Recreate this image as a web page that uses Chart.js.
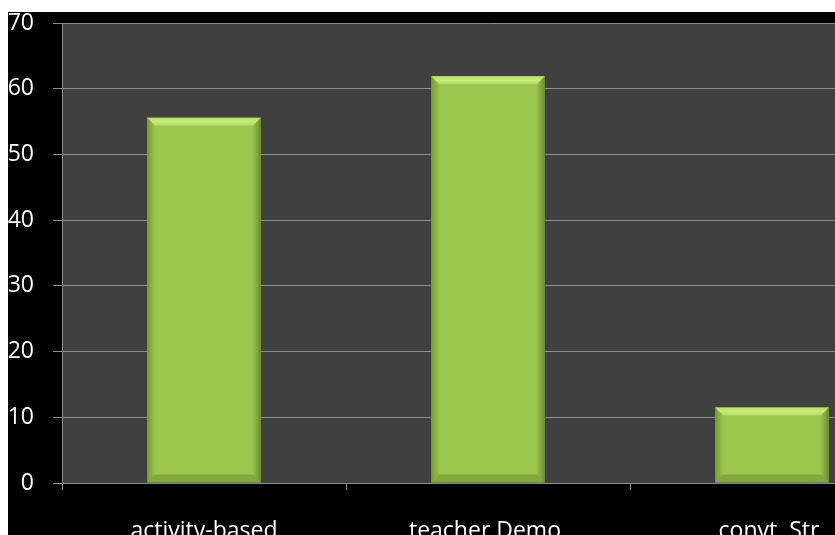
<!DOCTYPE html>
<html>
<head>
<meta charset="utf-8">
<script src="https://cdn.jsdelivr.net/npm/chart.js@4.4.1/dist/chart.umd.min.js"></script>
<style>
  html, body { margin: 0; padding: 0; background: #ffffff; width: 835px; height: 535px; overflow: hidden; }
  #wrap { position: absolute; left: 8px; top: 12px; width: 827px; height: 523px; background: #000000; overflow: hidden; }
  #box { position: absolute; left: 0; top: 0; width: 906px; height: 535px; }
</style>
</head>
<body>
<div id="wrap"><div id="box"><canvas id="c"></canvas></div></div>
<script>
const categories = ["activity-based", "teacher Demo.", "convt. Str."];
const values = [55.6, 61.9, 11.5];
const yTicks = [0, 10, 20, 30, 40, 50, 60, 70];

const plotBg = {
  id: 'plotBg',
  beforeDraw(chart) {
    const { ctx, chartArea: a } = chart;
    ctx.save();
    ctx.fillStyle = '#404040';
    ctx.fillRect(a.left, a.top, a.right - a.left, a.bottom - a.top);
    ctx.restore();
  }
};

const bevel = {
  id: 'bevel',
  afterDatasetsDraw(chart) {
    const { ctx } = chart;
    const meta = chart.getDatasetMeta(0);
    meta.data.forEach(el => {
      const p = el.getProps(['x', 'y', 'base', 'width'], true);
      const l = p.x - p.width / 2, r = p.x + p.width / 2, t = p.y, b = p.base;
      const bv = 8;
      ctx.save();
      ctx.beginPath();
      ctx.moveTo(l, t); ctx.lineTo(r, t); ctx.lineTo(r - bv, t + bv); ctx.lineTo(l + bv, t + bv); ctx.closePath();
      const gt = ctx.createLinearGradient(0, t, 0, t + bv);
      gt.addColorStop(0, '#b8e069'); gt.addColorStop(0.5, '#c9ec80'); gt.addColorStop(1, '#b0da62');
      ctx.fillStyle = gt; ctx.fill();
      ctx.beginPath();
      ctx.moveTo(l, b); ctx.lineTo(r, b); ctx.lineTo(r - bv, b - bv); ctx.lineTo(l + bv, b - bv); ctx.closePath();
      ctx.fillStyle = 'rgba(95,125,40,0.4)'; ctx.fill();
      ctx.beginPath();
      ctx.moveTo(l, t); ctx.lineTo(l + bv, t + bv); ctx.lineTo(l + bv, b - bv); ctx.lineTo(l, b); ctx.closePath();
      const gl = ctx.createLinearGradient(l, 0, l + bv, 0);
      gl.addColorStop(0, 'rgba(90,120,35,0.55)'); gl.addColorStop(1, 'rgba(90,120,35,0.05)');
      ctx.fillStyle = gl; ctx.fill();
      ctx.beginPath();
      ctx.moveTo(r, t); ctx.lineTo(r - bv, t + bv); ctx.lineTo(r - bv, b - bv); ctx.lineTo(r, b); ctx.closePath();
      const gr = ctx.createLinearGradient(r, 0, r - bv, 0);
      gr.addColorStop(0, 'rgba(80,110,30,0.65)'); gr.addColorStop(1, 'rgba(80,110,30,0.05)');
      ctx.fillStyle = gr; ctx.fill();
      ctx.restore();
    });
  }
};

new Chart(document.getElementById('c'), {
  type: 'bar',
  data: {
    labels: categories,
    datasets: [{
      data: values,
      backgroundColor(context) {
        const chart = context.chart;
        const el = context.element;
        if (!chart.chartArea || !el) return '#9cc74e';
        const p = el.getProps(['y', 'base'], true);
        if (!isFinite(p.y) || !isFinite(p.base) || p.y === p.base) return '#9cc74e';
        const g = chart.ctx.createLinearGradient(0, p.y, 0, p.base);
        g.addColorStop(0, '#a9d45a');
        g.addColorStop(0.5, '#99c34d');
        g.addColorStop(1, '#84a741');
        return g;
      },
      borderWidth: 0,
      barPercentage: 0.4,
      categoryPercentage: 1.0
    }]
  },
  options: {
    responsive: true,
    maintainAspectRatio: false,
    animation: false,
    devicePixelRatio: 1,
    layout: { padding: { top: 11, left: 0, right: 0, bottom: 0 } },
    plugins: { legend: { display: false }, tooltip: { enabled: false } },
    scales: {
      x: {
        grid: { display: true, drawOnChartArea: false, drawTicks: true, tickLength: 7, color: '#8c8c8c', offset: true },
        border: { display: true, color: '#8c8c8c', width: 1 },
        ticks: { color: '#ffffff', font: { family: 'Open Sans', size: 23 }, padding: 28, maxRotation: 0, autoSkip: false },
        afterFit(scale) { scale.height = 64; scale.paddingLeft = 0; scale.paddingRight = 0; }
      },
      y: {
        min: 0, max: 70,
        afterBuildTicks(scale) { scale.ticks = yTicks.map(v => ({ value: v })); },
        grid: { color: '#8c8c8c', lineWidth: 1, tickLength: 9, drawTicks: true },
        border: { display: true, color: '#8c8c8c', width: 1 },
        ticks: { color: '#ffffff', font: { family: 'Open Sans', size: 23, lineHeight: 1.0 }, padding: 19 },
        afterFit(scale) { scale.width = 54; scale.paddingTop = 0; scale.paddingBottom = 0; }
      }
    }
  },
  plugins: [plotBg, bevel]
});
</script>
</body>
</html>
